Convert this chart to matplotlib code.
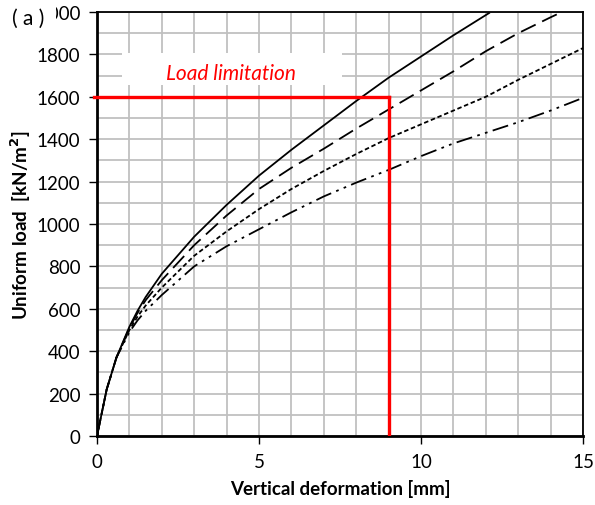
import matplotlib
matplotlib.use('Agg')
import matplotlib.pyplot as plt
from matplotlib.patches import Rectangle
from matplotlib.ticker import MultipleLocator

plt.rcParams['font.family'] = ['Lato', 'DejaVu Sans']

# curves (deformation mm, load kN/m2)
x_solid = [0, 0.3, 0.6, 1, 1.25, 1.5, 2, 3, 4, 5, 6, 7, 8, 9, 10, 11, 12.1]
y_solid = [0, 220, 370, 515, 590, 655, 765, 940, 1090, 1228, 1350, 1465, 1580, 1690, 1790, 1890, 1995]

x_dash = [0, 0.3, 0.6, 1, 1.25, 1.5, 2, 3, 4, 5, 6, 7, 8, 9, 10, 11, 12, 13, 14, 14.35]
y_dash = [0, 220, 370, 510, 580, 640, 735, 900, 1040, 1165, 1265, 1355, 1450, 1540, 1630, 1720, 1815, 1900, 1975, 2000]

x_dot = [0, 0.3, 0.6, 1, 1.25, 1.5, 2, 3, 4, 5, 6, 7, 8, 9, 10, 11, 12, 13, 14, 15]
y_dot = [0, 220, 370, 500, 563, 615, 700, 850, 965, 1070, 1165, 1250, 1330, 1405, 1470, 1535, 1600, 1680, 1755, 1830]

x_dd = [0, 0.3, 0.6, 1, 1.25, 1.5, 2, 3, 4, 5, 6, 7, 8, 9, 10, 11, 12, 13, 14, 15]
y_dd = [0, 220, 370, 490, 545, 590, 665, 800, 895, 975, 1055, 1130, 1195, 1255, 1320, 1380, 1430, 1480, 1535, 1595]

limit_load = 1600
limit_def = 9

fig = plt.figure(figsize=(5.95, 5.06), dpi=100)
ax = fig.add_axes([0.163, 0.1364, 0.817, 0.838])

ax.set_xlim(0, 15)
ax.set_ylim(0, 2000)
ax.xaxis.set_major_locator(MultipleLocator(5))
ax.xaxis.set_minor_locator(MultipleLocator(1))
ax.yaxis.set_major_locator(MultipleLocator(200))
ax.yaxis.set_minor_locator(MultipleLocator(100))
ax.grid(True, which='both', color='#c0c0c0', lw=1.3)
ax.tick_params(which='major', direction='out', length=6, width=1, labelsize=13.5, pad=6)
ax.tick_params(which='minor', length=0)
for s in ['left', 'bottom']:
    ax.spines[s].set_linewidth(2)
for s in ['top', 'right']:
    ax.spines[s].set_linewidth(1.3)

ax.plot(x_solid, y_solid, color='black', lw=1.3, zorder=3)
ax.plot(x_dash, y_dash, color='black', lw=1.3, dashes=(9, 4), zorder=3)
ax.plot(x_dot, y_dot, color='black', lw=1.3, dashes=(2.5, 1.5), zorder=3)
ax.plot(x_dd, y_dd, color='black', lw=1.3, dashes=(9, 3, 1.5, 3, 1.5, 3), zorder=3)

# label box hiding the grid
ax.add_patch(Rectangle((0.78, 1655), 6.77, 150, facecolor='white', edgecolor='none', zorder=2))
ax.text(4.14, 1712, 'Load limitation', color='red', style='italic', fontsize=15,
        ha='center', va='center', zorder=4)

ax.plot([-0.08, limit_def], [limit_load, limit_load], color='red', lw=2.4, zorder=4, clip_on=False)
ax.plot([limit_def, limit_def], [0, limit_load], color='red', lw=2.4, zorder=4)

ax.set_xlabel('Vertical deformation [mm]', fontsize=13.5, fontweight='bold', labelpad=7)
ax.set_ylabel('Uniform load  [kN/m$^\\mathbf{2}$]', fontsize=13.5, fontweight='bold', labelpad=3)

# white patch behind "(a)" that hides part of the top tick label
fig.patches.append(Rectangle((0, 1 - 34 / 506), 56 / 595, 34 / 506, transform=fig.transFigure,
                             facecolor='white', edgecolor='none', zorder=2))
fig.text(0.02, 0.963, '( a )', fontsize=15, ha='left', va='center', zorder=3)

plt.savefig('out.png', dpi=100)
